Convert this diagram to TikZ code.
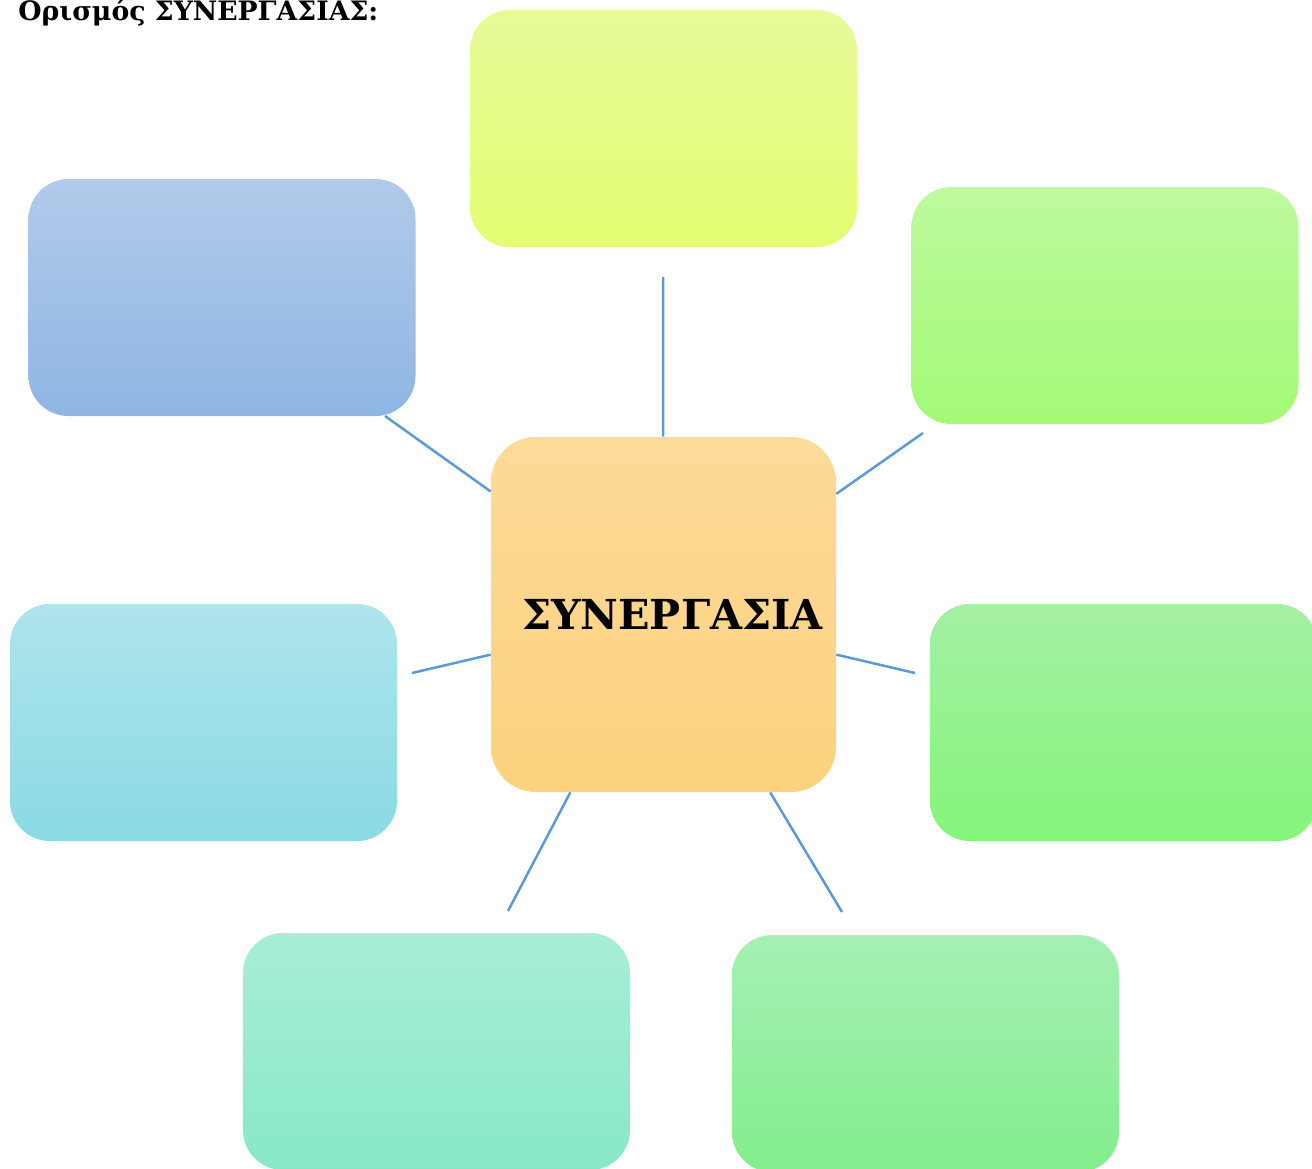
\documentclass[tikz,border=0pt]{standalone}
\usepackage{fontspec}
\setmainfont{DejaVu Serif}
\usetikzlibrary{positioning}
\definecolor{linkblue}{RGB}{91,155,213}
\definecolor{topA}{RGB}{231,251,152}
\definecolor{topB}{RGB}{227,254,114}
\definecolor{tlA}{RGB}{178,202,234}
\definecolor{tlB}{RGB}{142,182,228}
\definecolor{trA}{RGB}{190,250,158}
\definecolor{trB}{RGB}{163,250,118}
\definecolor{ctrA}{RGB}{252,218,152}
\definecolor{ctrB}{RGB}{253,210,126}
\definecolor{lmA}{RGB}{174,228,236}
\definecolor{lmB}{RGB}{138,218,228}
\definecolor{rmA}{RGB}{164,240,164}
\definecolor{rmB}{RGB}{132,245,122}
\definecolor{blA}{RGB}{168,238,212}
\definecolor{blB}{RGB}{135,232,200}
\definecolor{brA}{RGB}{165,240,180}
\definecolor{brB}{RGB}{130,238,140}

\begin{document}
\begin{tikzpicture}[x=0.2mm,y=-0.2mm,
  box/.style={rounded corners=8mm,minimum width=77.4mm,minimum height=47.4mm,inner sep=0pt},
  link/.style={draw=linkblue,line width=0.5mm}
]
\useasboundingbox (0,0) rectangle (1312,1169);
\node[anchor=base west,inner sep=0pt,font=\bfseries\fontsize{15.2}{18}\selectfont] (ttl) at (18,21) {Ορισμός ΣΥΝΕΡΓΑΣΙΑΣ:};
\node[box,top color=topA,bottom color=topB] (top) at (663.5,128.5) {};
\node[box,top color=tlA,bottom color=tlB] (tl) at (222,297.5) {};
\node[box,top color=trA,bottom color=trB] (tr) at (1105,305.5) {};
\node[box,top color=lmA,bottom color=lmB] (lm) at (203.5,722.5) {};
\node[box,top color=rmA,bottom color=rmB] (rm) at (1123.5,722.5) {};
\node[box,top color=blA,bottom color=blB] (bl) at (436.5,1051.5) {};
\node[box,top color=brA,bottom color=brB] (br) at (925.5,1053.5) {};
\node[box,rounded corners=9mm,minimum width=69mm,minimum height=71mm,top color=ctrA,bottom color=ctrB,
  font=\bfseries\fontsize{23.5}{28}\selectfont] (ctr) at (663.5,614.5) {\hspace*{3.6mm}ΣΥΝΕΡΓΑΣΙΑ};
\coordinate (e1) at (663,277);
\coordinate (e2) at (385,416);
\coordinate (e3) at (923,433);
\coordinate (e4) at (412,673);
\coordinate (e5) at (915,673);
\coordinate (e6) at (508,911);
\coordinate (e7) at (842,912);
\draw[link] (e1)--(ctr);
\draw[link] (e2)--(ctr);
\draw[link] (e3)--(ctr);
\draw[link] (e4)--(ctr);
\draw[link] (e5)--(ctr);
\draw[link] (e6)--(ctr);
\draw[link] (e7)--(ctr);
\end{tikzpicture}
\end{document}
